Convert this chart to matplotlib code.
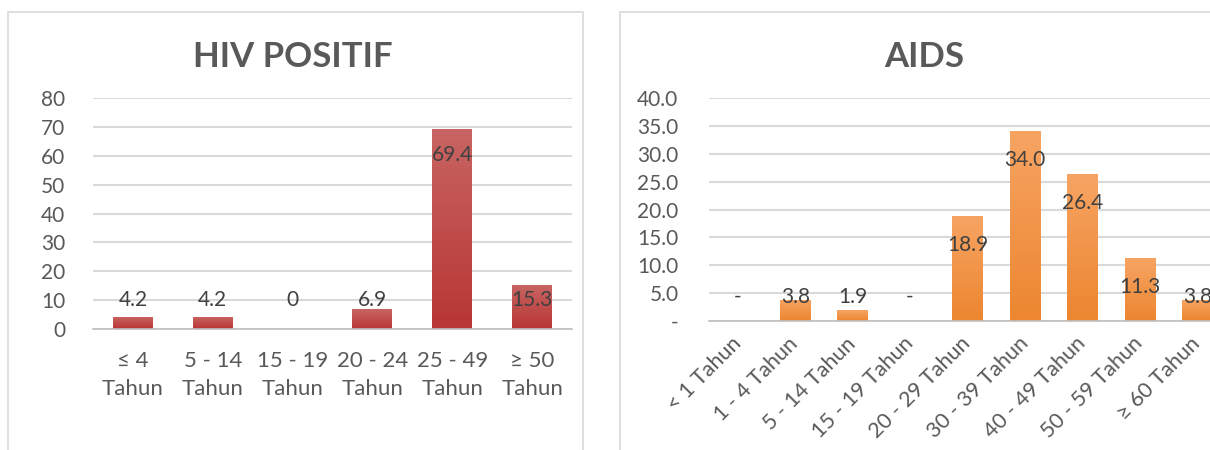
import numpy as np
import matplotlib.pyplot as plt
from matplotlib.patches import Rectangle
from matplotlib.colors import LinearSegmentedColormap

plt.rcParams["font.family"] = ["Lato", "DejaVu Sans"]

# HIV positif by age group
hiv_labels = ["≤ 4\nTahun", "5 - 14\nTahun", "15 - 19\nTahun", "20 - 24\nTahun", "25 - 49\nTahun", "≥ 50\nTahun"]
hiv_values = [4.2, 4.2, 0, 6.9, 69.4, 15.3]

# AIDS by age group
aids_labels = ["< 1 Tahun", "1 - 4 Tahun", "5 - 14 Tahun", "15 - 19 Tahun", "20 - 29 Tahun",
               "30 - 39 Tahun", "40 - 49 Tahun", "50 - 59 Tahun", "≥ 60 Tahun"]
aids_values = [0, 3.8, 1.9, 0, 18.9, 34.0, 26.4, 11.3, 3.8]

text_col = "#404040"
tick_col = "#595959"
grid_col = "#d9d9d9"

fig = plt.figure(figsize=(12.1, 4.5), dpi=100)

# chart frames (right one runs off the edge like the reference)
fig.add_artist(Rectangle((8 / 1210, -0.1), 575 / 1210, 1.1 - 12 / 450, transform=fig.transFigure,
                         fill=False, edgecolor=grid_col, linewidth=1.2))
fig.add_artist(Rectangle((620 / 1210, -0.1), 0.6, 1.1 - 12 / 450, transform=fig.transFigure,
                         fill=False, edgecolor=grid_col, linewidth=1.2))


def style_axes(ax, ymax, step):
    for s in ["top", "right", "left"]:
        ax.spines[s].set_visible(False)
    ax.spines["bottom"].set_color("#bfbfbf")
    ax.spines["bottom"].set_linewidth(1.2)
    ax.set_ylim(0, ymax)
    ax.set_yticks([i * step for i in range(int(ymax / step) + 1)])
    ax.grid(axis="y", color=grid_col, linewidth=1.5)
    ax.set_axisbelow(True)
    ax.tick_params(length=0, colors=tick_col, labelsize=15)


def gradient_bars(ax, bars, top_col, bottom_col):
    # excel-like vertical gradient fill, clipped to each bar
    cmap = LinearSegmentedColormap.from_list("g", [bottom_col, top_col])
    grad = np.linspace(0, 1, 100).reshape(-1, 1)
    for b in bars:
        if b.get_height() <= 0:
            continue
        x0, w, h = b.get_x(), b.get_width(), b.get_height()
        im = ax.imshow(grad, extent=[x0, x0 + w, 0, h], origin="lower", aspect="auto",
                       cmap=cmap, zorder=2)
        im.set_clip_path(b)
        b.set_facecolor("none")


# left chart
ax1 = fig.add_axes([93 / 1210, 1 - 329 / 450, 479 / 1210, 231 / 450])
x1 = range(len(hiv_values))
bars1 = ax1.bar(x1, hiv_values, width=0.5, color="#c0413f", zorder=2, linewidth=0)
gradient_bars(ax1, bars1, "#c86563", "#b83634")
style_axes(ax1, 80, 10)
ax1.set_xlim(-0.5, len(hiv_values) - 0.5)
ax1.set_xticks(list(x1))
ax1.set_xticklabels(hiv_labels, fontsize=16, linespacing=1.5)
ax1.tick_params(axis="x", pad=16)
ax1.tick_params(axis="y", pad=20)
for i, v in enumerate(hiv_values):
    ax1.text(i, max(v - 9, 10), f"{v:g}", ha="center", va="center", fontsize=15, color=text_col, zorder=3)
fig.text(293 / 1210, 1 - 57 / 450, "HIV POSITIF", ha="center", va="center",
         fontsize=25, fontweight="bold", color="#595959")

# right chart
ax2 = fig.add_axes([709 / 1210, 1 - 321 / 450, 517 / 1210, 223 / 450])
x2 = range(len(aids_values))
bars2 = ax2.bar(x2, aids_values, width=0.53, color="#f5903a", zorder=2, linewidth=0)
gradient_bars(ax2, bars2, "#f7a463", "#ec8630")
style_axes(ax2, 40, 5)
ax2.set_xlim(-0.5, len(aids_values) - 0.5)
ax2.set_xticks(list(x2))
ax2.set_xticklabels(aids_labels, fontsize=15.5, rotation=45, ha="right", va="center",
                    rotation_mode="anchor")
ax2.tick_params(axis="x", pad=14)
ax2.tick_params(axis="y", pad=22)
ax2.set_yticklabels(["-" if t == 0 else f"{t:.1f}" for t in ax2.get_yticks()])
for i, v in enumerate(aids_values):
    ax2.text(i, max(v - 5.2, 4.3), "-" if v == 0 else f"{v:.1f}", ha="center", va="center",
             fontsize=15, color=text_col, zorder=3)
fig.text(924 / 1210, 1 - 57 / 450, "AIDS", ha="center", va="center",
         fontsize=25, fontweight="bold", color="#595959")

plt.savefig("out.png", dpi=100)
